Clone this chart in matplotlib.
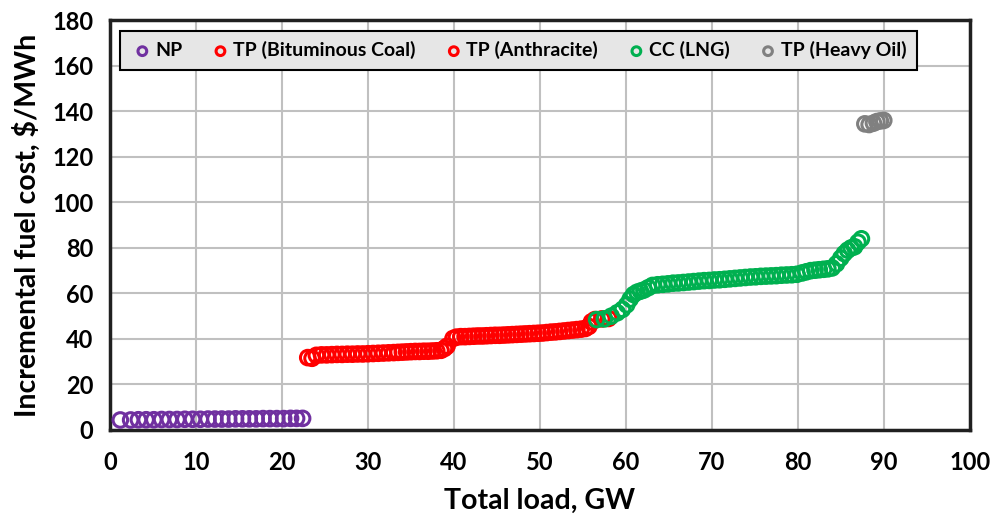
import matplotlib
matplotlib.use("Agg")
import matplotlib.pyplot as plt

plt.rcParams['font.family'] = ['Lato', 'DejaVu Sans']
plt.rcParams['font.weight'] = 'bold'

# merit order: incremental fuel cost vs cumulative load
np_x = [1.2, 2.4, 3.3, 4.2, 5.1, 6.0, 6.9, 7.8, 8.7, 9.6, 10.5, 11.4, 12.2, 13.0,
        13.8, 14.6, 15.4, 16.2, 17.0, 17.8, 18.6, 19.4, 20.2, 21.0, 21.7, 22.4]
np_y = [4.4, 4.4, 4.5, 4.5, 4.5, 4.6, 4.6, 4.6, 4.7, 4.7, 4.7, 4.8, 4.8, 4.8,
        4.8, 4.9, 4.9, 4.9, 4.9, 5.0, 5.0, 5.0, 5.0, 5.1, 5.1, 5.1]

bit_x = [23.0, 23.5, 24.0, 24.6, 25.2, 25.8, 26.4, 27.0, 27.6, 28.2, 28.8, 29.4,
         30.0, 30.6, 31.2, 31.8, 32.4, 33.0, 33.5, 34.0, 34.5, 35.0, 35.5, 36.0,
         36.5, 37.0, 37.5, 38.0, 38.5, 38.9, 39.2]
bit_y = [31.8, 31.5, 32.8, 33.0, 33.0, 33.1, 33.2, 33.2, 33.3, 33.3, 33.4, 33.4,
         33.5, 33.6, 33.7, 33.8, 33.9, 34.0, 34.1, 34.2, 34.3, 34.4, 34.5, 34.5,
         34.6, 34.6, 34.7, 34.8, 35.0, 35.8, 36.8]

ant_x = [39.9, 40.3, 40.8, 41.3, 41.8, 42.3, 42.8, 43.3, 43.8, 44.3, 44.8, 45.3,
         45.8, 46.3, 46.8, 47.3, 47.8, 48.3, 48.8, 49.3, 49.8, 50.3, 50.8, 51.3,
         51.8, 52.3, 52.8, 53.3, 53.8, 54.3, 54.8, 55.3, 55.7, 56.0, 56.4, 57.2, 58.0]
ant_y = [40.2, 40.8, 41.0, 41.0, 41.1, 41.2, 41.3, 41.3, 41.4, 41.5, 41.6, 41.6,
         41.7, 41.8, 41.9, 42.0, 42.1, 42.2, 42.3, 42.4, 42.5, 42.6, 42.8, 43.0,
         43.1, 43.3, 43.5, 43.7, 43.9, 44.1, 44.3, 44.6, 45.5, 47.5, 48.5, 48.8, 49.0]

lng_x = [56.6, 57.5, 58.3, 59.0, 59.6, 60.1, 60.5, 60.9, 61.3, 61.7, 62.1, 62.6,
         63.1, 63.7, 64.3, 64.9, 65.5, 66.1, 66.7, 67.3, 67.9, 68.5, 69.1, 69.7,
         70.3, 70.9, 71.5, 72.1, 72.7, 73.3, 73.9, 74.5, 75.1, 75.7, 76.3, 76.9,
         77.5, 78.1, 78.7, 79.3, 79.9, 80.5, 81.0, 81.5, 82.0, 82.5, 83.0, 83.5,
         84.0, 84.5, 85.0, 85.4, 85.8, 86.2, 86.6, 87.0, 87.4]
lng_y = [48.5, 48.8, 50.0, 51.5, 53.0, 55.0, 57.5, 59.5, 60.5, 61.0, 61.5, 62.5,
         63.5, 63.8, 64.0, 64.2, 64.5, 64.6, 64.8, 65.0, 65.2, 65.4, 65.6, 65.7,
         65.9, 66.0, 66.2, 66.4, 66.6, 66.8, 67.0, 67.2, 67.3, 67.5, 67.6, 67.7,
         67.8, 68.0, 68.1, 68.2, 68.4, 69.0, 69.5, 70.0, 70.2, 70.4, 70.6, 70.8,
         71.2, 73.0, 75.5, 77.5, 79.0, 80.0, 80.5, 82.5, 84.0]

oil_x = [87.8, 88.3, 88.8, 89.2, 89.6, 90.0]
oil_y = [134.5, 134.2, 134.8, 135.5, 135.8, 136.0]

series = [
    ('NP', np_x, np_y, '#7030a0'),
    ('TP (Bituminous Coal)', bit_x, bit_y, '#ff0000'),
    ('TP (Anthracite)', ant_x, ant_y, '#ff0000'),
    ('CC (LNG)', lng_x, lng_y, '#00b050'),
    ('TP (Heavy Oil)', oil_x, oil_y, '#808080'),
]

fig = plt.figure(figsize=(10.02, 5.16), dpi=100)
ax = fig.add_axes([0.1098, 0.1667, 0.858, 0.794])

for name, xs, ys, c in series:
    ax.scatter(xs, ys, s=110, facecolors='none', edgecolors=c, linewidths=2.2,
               label=name, zorder=3)

ax.set_xlim(0, 100)
ax.set_ylim(0, 180)
ax.set_xticks(range(0, 101, 10))
ax.set_yticks(range(0, 181, 20))
ax.grid(True, color='#c0c0c0', linewidth=1.5, zorder=0)
ax.set_axisbelow(True)
ax.tick_params(length=0, labelsize=17)
ax.tick_params(axis='x', pad=15)
ax.tick_params(axis='y', pad=12)
for sp in ax.spines.values():
    sp.set_linewidth(2.5)
    sp.set_color('#202020')

ax.set_xlabel('Total load, GW', fontsize=20.5, fontweight='bold', labelpad=10)
ax.set_ylabel('Incremental fuel cost, $/MWh', fontsize=20.5, fontweight='bold', labelpad=8)

leg = ax.legend(loc='upper left', bbox_to_anchor=(0.0116, 0.875, 0.927, 0.1),
                mode='expand', ncol=5, fontsize=14, frameon=True, fancybox=False,
                handletextpad=0.05, handlelength=1.2, columnspacing=1.0,
                borderpad=0.55, markerscale=0.6, borderaxespad=0)
fr = leg.get_frame()
fr.set_facecolor('#e6e6e6')
fr.set_edgecolor('black')
fr.set_linewidth(1.5)
fr.set_alpha(1)

fig.savefig('out.png', dpi=100)
